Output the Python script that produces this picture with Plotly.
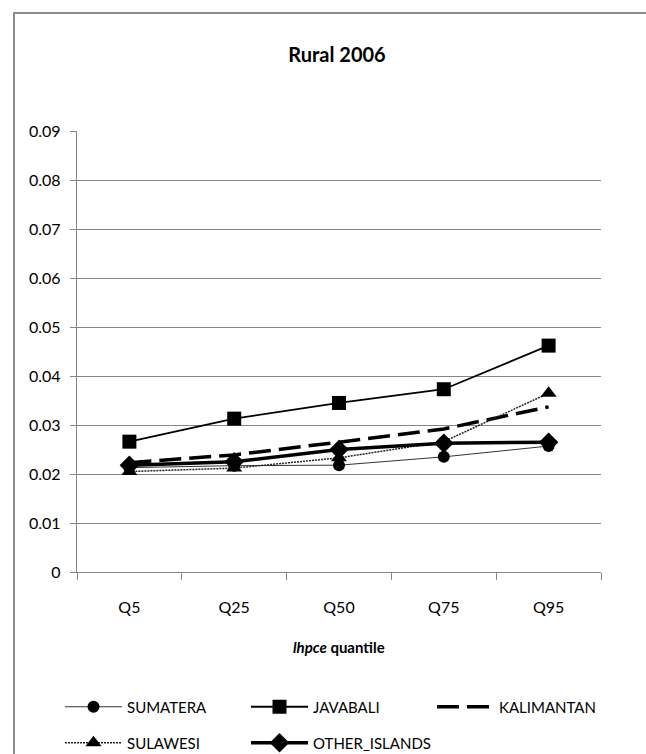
import plotly.graph_objects as go

categories = ["Q5", "Q25", "Q50", "Q75", "Q95"]
sumatera = [0.0213, 0.0217, 0.0218, 0.0235, 0.0257]
javabali = [0.0266, 0.0313, 0.0345, 0.0373, 0.0462]
kalimantan = [0.0223, 0.0239, 0.0265, 0.0292, 0.0337]
sulawesi = [0.0205, 0.0212, 0.0233, 0.0266, 0.0365]
other_islands = [0.0218, 0.0225, 0.0250, 0.0263, 0.0265]

FONT = "Lato"
W, H = 646, 754
L, R, T, B = 77, 45, 131, 182
pw, ph = W - L - R, H - T - B

fig = go.Figure()
fig.add_trace(go.Scatter(x=categories, y=sumatera, name="SUMATERA", mode="lines+markers",
                         line=dict(color="#333333", width=1),
                         marker=dict(symbol="circle", size=12, color="black"), legend="legend"))
fig.add_trace(go.Scatter(x=categories, y=javabali, name="JAVABALI", mode="lines+markers",
                         line=dict(color="black", width=1.8),
                         marker=dict(symbol="square", size=14, color="black"), legend="legend2"))
fig.add_trace(go.Scatter(x=categories, y=kalimantan, name="KALIMANTAN", mode="lines",
                         line=dict(color="black", width=3.5, dash="22px,8px"), legend="legend3"))
fig.add_trace(go.Scatter(x=categories, y=sulawesi, name="SULAWESI", mode="lines+markers",
                         line=dict(color="#222222", width=1.5, dash="2px,1px"),
                         marker=dict(symbol="triangle-up", size=14, color="black"), legend="legend4"))
fig.add_trace(go.Scatter(x=categories, y=other_islands, name="OTHER_ISLANDS", mode="lines+markers",
                         line=dict(color="black", width=3.5),
                         marker=dict(symbol="diamond", size=15, color="black"), legend="legend5"))


def px2paper_x(px):
    return (px - L) / pw


def px2paper_y(py):
    return (H - B - py) / ph


# outer chart border (extends beyond the image on right/bottom)
fig.add_shape(type="rect", xref="paper", yref="paper",
              x0=px2paper_x(14), x1=px2paper_x(700), y0=px2paper_y(800), y1=px2paper_y(13),
              line=dict(color="#8c8c8c", width=2), fillcolor="rgba(0,0,0,0)", layer="below")

fig.add_annotation(text="<b><i>lhpce</i> quantile</b>", xref="paper", yref="paper",
                   x=0.5, y=px2paper_y(647), showarrow=False,
                   font=dict(family=FONT, size=15, color="black"), yanchor="middle")


def leg(xpx, ypx):
    return dict(orientation="h", xref="container", yref="container", x=xpx / W, y=(H - ypx) / H,
                xanchor="left", yanchor="middle", itemwidth=57, visible=True,
                font=dict(family=FONT, size=15, color="black"), bgcolor="rgba(0,0,0,0)")


fig.update_layout(
    width=W, height=H,
    showlegend=True,
    margin=dict(l=L, r=R, t=T, b=B, autoexpand=False),
    paper_bgcolor="white", plot_bgcolor="white",
    font=dict(family=FONT, color="black"),
    title=dict(text="<b>Rural 2006</b>", x=px2paper_x(337), xref="paper", xanchor="center",
               y=1 - 55 / H, yanchor="middle", font=dict(family=FONT, size=20, color="black")),
    xaxis=dict(type="category", range=[-0.5, 4.5], showline=True, linecolor="#868686", linewidth=1.3,
               ticks="outside", tickson="boundaries", ticklen=7, tickcolor="#868686",
               showgrid=False, tickfont=dict(family=FONT, size=16, color="black"),
               ticklabelstandoff=21),
    yaxis=dict(range=[0, 0.09], dtick=0.01, showline=True, linecolor="#868686", linewidth=1.3,
               ticks="outside", ticklen=6, tickcolor="#868686",
               gridcolor="#868686", gridwidth=1.3, zeroline=False,
               tickfont=dict(family=FONT, size=16, color="black"), ticklabelstandoff=6),
    legend=leg(60, 707),
    legend2=leg(246, 707),
    legend3=leg(432, 707),
    legend4=leg(60, 743),
    legend5=leg(246, 743),
)

fig.write_html("out.html")
